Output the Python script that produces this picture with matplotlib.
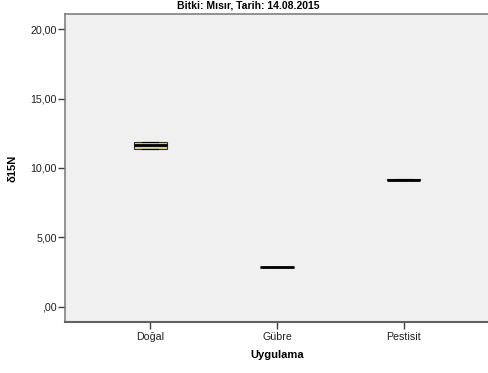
import matplotlib as mpl
mpl.use('Agg')
import matplotlib.pyplot as plt
from matplotlib.ticker import FuncFormatter

plt.rcParams['font.family'] = ['Liberation Sans', 'DejaVu Sans']

# box summaries per treatment (delta 15N)
groups = ['Doğal', 'Gübre', 'Pestisit']
q1 = [11.36, 2.87, 9.12]
medians = [11.62, 2.87, 9.17]
q3 = [11.89, 2.87, 9.20]
whis_lo = [11.36, 2.87, 9.12]
whis_hi = [11.89, 2.87, 9.20]

yticks = [0, 5, 10, 15, 20]

stats = []
for i in range(len(groups)):
	stats.append({'label': groups[i], 'q1': q1[i], 'med': medians[i], 'q3': q3[i],
		'whislo': whis_lo[i], 'whishi': whis_hi[i], 'fliers': []})

fig = plt.figure(figsize=(4.88, 3.73), dpi=100)
ax = fig.add_axes([65/488, 51/373, 424/488, 308/373])
ax.set_facecolor('#f0f0f0')

ax.bxp(stats, positions=range(len(groups)), widths=0.26, patch_artist=True,
	showfliers=False,
	boxprops=dict(facecolor='#d5d09c', edgecolor='#303030', linewidth=0.8),
	medianprops=dict(color='black', linewidth=2),
	whiskerprops=dict(color='black', linewidth=0.8),
	capprops=dict(color='black', linewidth=0.8))

ax.set_xlim(-0.67, 2.67)
ax.set_ylim(-1.08, 21.08)
ax.set_yticks(yticks)
ax.yaxis.set_major_formatter(FuncFormatter(lambda v, p: (',00' if v == 0 else '%d,00' % v)))
ax.set_xticks(range(len(groups)))
ax.set_xticklabels(groups)

ax.tick_params(axis='both', direction='out', length=5, width=1, color='#404040',
	labelsize=7.7, labelcolor='#202020')
ax.tick_params(axis='y', pad=1)
ax.tick_params(axis='x', pad=2)

for side in ['left', 'top']:
	ax.spines[side].set_color('#808080')
	ax.spines[side].set_linewidth(1.2)
ax.spines['bottom'].set_color('#606060')
ax.spines['bottom'].set_linewidth(1.5)
ax.spines['right'].set_visible(False)

ax.set_xlabel('Uygulama', fontsize=8, fontweight='bold', labelpad=6)
ax.set_ylabel('δ15N', fontsize=8, fontweight='bold', labelpad=9)
fig.text(248/488, 1 - 6/373, 'Bitki: Mısır, Tarih: 14.08.2015', fontsize=7.5,
	fontweight='bold', ha='center', va='center')

fig.savefig('out.png', dpi=100)
